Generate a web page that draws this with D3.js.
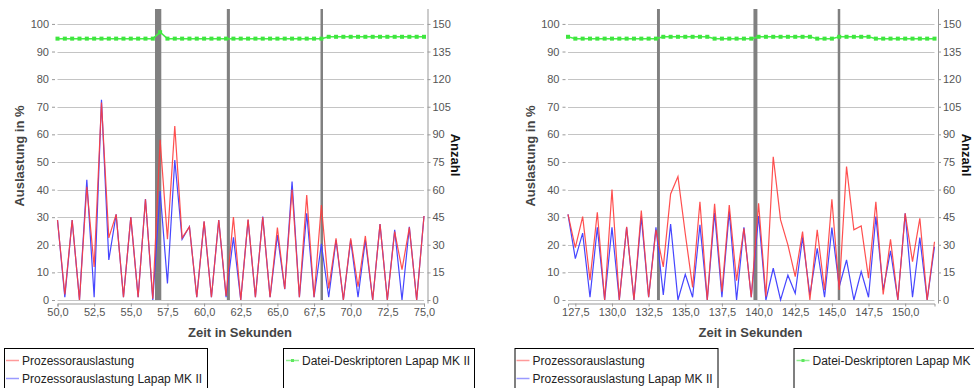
<!DOCTYPE html>
<html>
<head>
<meta charset="utf-8">
<script src="https://cdn.jsdelivr.net/npm/d3@7"></script>
<style>
  body { margin: 0; background: #fff; }
  svg { display: block; font-family: "Liberation Sans", Arial, sans-serif; }
  .tick text { fill: #555; font-size: 11px; }
  .axis .domain { stroke: #999; }
  .axis .tick line { stroke: #999; }
</style>
</head>
<body>
<div id="chart"></div>
<script>
// ---- data: left chart (50 - 75 s) ----
var timeA = [50.0, 50.5, 51.0, 51.5, 52.0, 52.5, 53.0, 53.5, 54.0, 54.5, 55.0, 55.5, 56.0, 56.5, 57.0, 57.5, 58.0, 58.5, 59.0, 59.5,
             60.0, 60.5, 61.0, 61.5, 62.0, 62.5, 63.0, 63.5, 64.0, 64.5, 65.0, 65.5, 66.0, 66.5, 67.0, 67.5, 68.0, 68.5, 69.0, 69.5,
             70.0, 70.5, 71.0, 71.5, 72.0, 72.5, 73.0, 73.5, 74.0, 74.5, 75.0];
var cpuA = [29, 2, 29, 0, 41, 12, 71.5, 22.5, 31, 1, 30, 1, 36.5, 0.5, 58, 22, 63, 22.5, 26.5, 1,
            28.5, 1, 29, 1.5, 30, 0, 29.2, 1, 30, 1, 26.2, 4, 40, 1, 38, 1, 34.4, 4.2, 22.3, 0,
            22.3, 4.8, 23.2, 0, 27.5, 0, 24.8, 11, 26.3, 0, 30.4];
var cpuMkA = [29, 1, 29, 0, 43.5, 1, 72.5, 14.5, 31, 1, 30, 1, 36.6, 0, 39.5, 6, 50.7, 22, 26.6, 1,
              28.4, 1, 29, 1, 22.7, 0, 29, 1, 30.2, 1, 23.5, 3.9, 42.9, 1, 31.4, 1, 20.3, 1, 21.7, 0,
              21.7, 1, 21.7, 0, 27.5, 0, 25.4, 0, 26.5, 0, 30.4];
var fdA = [142, 142, 142, 142, 142, 142, 142, 142, 142, 142, 142, 142, 142, 142, 145.5, 142, 142, 142, 142, 142,
           142, 142, 142, 142, 142, 142, 142, 142, 142, 142, 142, 142, 142, 142, 142, 142, 142, 143, 143, 143,
           143, 143, 143, 143, 143, 143, 143, 143, 143, 143, 143];
var eventsA = [[56.65, 57.08], [61.55, 61.76], [67.94, 68.1]];
var ticksA = [50, 52.5, 55, 57.5, 60, 62.5, 65, 67.5, 70, 72.5, 75];

// ---- data: right chart (127 - 152 s) ----
var timeB = [127.0, 127.5, 128.0, 128.5, 129.0, 129.5, 130.0, 130.5, 131.0, 131.5, 132.0, 132.5, 133.0, 133.5, 134.0, 134.5, 135.0, 135.5, 136.0, 136.5,
             137.0, 137.5, 138.0, 138.5, 139.0, 139.5, 140.0, 140.5, 141.0, 141.5, 142.0, 142.5, 143.0, 143.5, 144.0, 144.5, 145.0, 145.5, 146.0, 146.5,
             147.0, 147.5, 148.0, 148.5, 149.0, 149.5, 150.0, 150.5, 151.0, 151.5, 152.0];
var cpuB = [31, 19, 30.2, 7.2, 31.8, 0, 40, 0, 26.5, 0, 32.4, 1, 25.4, 12, 38.4, 44.7, 24, 4.6, 35.6, 0,
            34.8, 3, 34.4, 7, 26, 1, 35, 1.2, 51.9, 29, 20, 8.5, 24.8, 0, 25.4, 3.6, 36.5, 3.6, 48.3, 25.4,
            26.8, 7.9, 35.6, 2, 22, 0, 31.4, 13.9, 29.6, 0, 21.1];
var cpuMkB = [31, 15, 24.2, 1, 26.3, 0, 26.3, 0, 26.3, 0, 30.2, 1, 26.3, 1.8, 27.5, 0, 9.3, 1, 27.2, 0,
              31.6, 1, 32, 0, 26.3, 1, 30.4, 0, 11.5, 0, 9, 2.4, 22.7, 1.8, 18.7, 1, 26.2, 4.8, 14.5, 0,
              10.3, 1, 30.2, 3.6, 17.8, 0, 31.4, 1, 22.6, 0, 19.3];
var fdB = [143, 142, 142, 142, 142, 142, 142, 142, 142, 142, 142, 142, 142, 143, 143, 143, 143, 143, 143, 143,
           142, 142, 142, 142, 142, 142, 143, 143, 143, 143, 143, 143, 143, 143, 142, 142, 142, 143, 143, 143,
           143, 143, 142, 142, 142, 142, 142, 142, 142, 142, 142];
var eventsB = [[133.07, 133.27], [139.65, 139.92], [145.4, 145.55]];
var ticksB = [127.5, 130, 132.5, 135, 137.5, 140, 142.5, 145, 147.5, 150];

var yTicks = [0, 10, 20, 30, 40, 50, 60, 70, 80, 90, 100];
var yTicksRight = [0, 15, 30, 45, 60, 75, 90, 105, 120, 135, 150];
var seriesNames = ["Prozessorauslastung", "Prozessorauslastung Lapap MK II", "Datei-Deskriptoren Lapap MK II"];

var svg = d3.select("#chart").append("svg")
    .attr("width", 974)
    .attr("height", 388);

var fmt = function(d) { return d3.format(".1f")(d).replace(".", ","); };

function drawChart(offsetX, time, cpu, cpuMk, fd, events, xTicks) {
    var g = svg.append("g").attr("transform", "translate(" + offsetX + ",0)");
    var left = 57.5, right = 424, top = 9, bottom = 300;

    var x = d3.scaleLinear().domain([time[0], time[time.length - 1]]).range([left, right]);
    var y = d3.scaleLinear().domain([0, 105.4]).range([bottom, top]);
    var y2 = d3.scaleLinear().domain([0, 158.1]).range([bottom, top]);

    // grid
    g.append("g").selectAll("line").data(yTicks).enter().append("line")
        .attr("x1", left).attr("x2", right)
        .attr("y1", d => Math.round(y(d)) + 0.5).attr("y2", d => Math.round(y(d)) + 0.5)
        .attr("stroke", "#c4c4c4");

    // event bars
    g.append("g").selectAll("rect").data(events).enter().append("rect")
        .attr("x", d => x(d[0]))
        .attr("width", d => Math.max(2.5, x(d[1]) - x(d[0])))
        .attr("y", top).attr("height", bottom - top)
        .attr("fill", "#808080");

    // axes
    var xAxis = d3.axisBottom(x).tickValues(xTicks).tickFormat(fmt).tickSize(3).tickPadding(2);
    g.append("g").attr("class", "axis")
        .attr("transform", "translate(0,303.5)")
        .call(xAxis);

    var yAxisLeft = d3.axisLeft(y).tickValues(yTicks).tickSize(3).tickPadding(3);
    g.append("g").attr("class", "axis")
        .attr("transform", "translate(55,0)")
        .call(yAxisLeft)
        .call(s => s.select(".domain").remove());

    var yAxisRight = d3.axisRight(y2).tickValues(yTicksRight).tickSize(3).tickPadding(2);
    g.append("g").attr("class", "axis")
        .attr("transform", "translate(427.5,0)")
        .call(yAxisRight)
        .call(s => s.select(".domain").attr("d", "M0.5," + top + "V303.5"));

    // lines
    var idx = d3.range(time.length);
    var line1 = d3.line().x(i => x(time[i])).y(i => y(cpu[i]));
    var line2 = d3.line().x(i => x(time[i])).y(i => y(cpuMk[i]));
    var line3 = d3.line().x(i => x(time[i])).y(i => y2(fd[i]));

    g.append("path").datum(idx).attr("d", line2)
        .attr("fill", "none").attr("stroke", "#4646ff").attr("stroke-width", 1.2);
    g.append("path").datum(idx).attr("d", line1)
        .attr("fill", "none").attr("stroke", "#ff3c3c").attr("stroke-width", 1.2).attr("stroke-opacity", 0.9);
    g.append("path").datum(idx).attr("d", line3)
        .attr("fill", "none").attr("stroke", "#44ee44").attr("stroke-width", 1.5);
    g.append("g").selectAll("rect").data(idx).enter().append("rect")
        .attr("x", i => x(time[i]) - 2).attr("y", i => y2(fd[i]) - 2)
        .attr("width", 4).attr("height", 4)
        .attr("fill", "#3fe63f");

    // titles
    g.append("text")
        .attr("transform", "translate(24,156) rotate(-90)")
        .attr("text-anchor", "middle")
        .attr("font-size", 13).attr("font-weight", "bold").attr("fill", "#444")
        .text("Auslastung in %");
    g.append("text")
        .attr("transform", "translate(451,155) rotate(90)")
        .attr("text-anchor", "middle")
        .attr("font-size", 13).attr("font-weight", "bold").attr("fill", "#111")
        .text("Anzahl");
    g.append("text")
        .attr("x", 240).attr("y", 337)
        .attr("text-anchor", "middle")
        .attr("font-size", 13).attr("font-weight", "bold").attr("fill", "#444")
        .text("Zeit in Sekunden");

    // legends
    var leg1 = g.append("g");
    leg1.append("rect").attr("x", 4.5).attr("y", 348.5).attr("width", 203).attr("height", 50)
        .attr("fill", "none").attr("stroke", "#000");
    [["#ff9a9a", seriesNames[0]], ["#9a9aff", seriesNames[1]]].forEach(function(d, i) {
        leg1.append("line").attr("x1", 6).attr("x2", 19)
            .attr("y1", 360.5 + i * 18).attr("y2", 360.5 + i * 18)
            .attr("stroke", d[0]).attr("stroke-width", 1.5);
        leg1.append("text").attr("x", 22).attr("y", 364.5 + i * 18)
            .attr("font-size", 12).attr("fill", "#222").text(d[1]);
    });
    var leg2 = g.append("g");
    leg2.append("rect").attr("x", 283.5).attr("y", 348.5).attr("width", 191).attr("height", 50)
        .attr("fill", "none").attr("stroke", "#000");
    leg2.append("line").attr("x1", 286).attr("x2", 299).attr("y1", 360.5).attr("y2", 360.5)
        .attr("stroke", "#8ff08f").attr("stroke-width", 1.5);
    leg2.append("rect").attr("x", 291).attr("y", 359).attr("width", 3).attr("height", 3).attr("fill", "#5fe85f");
    leg2.append("text").attr("x", 302).attr("y", 364.5)
        .attr("font-size", 12).attr("fill", "#222").text(seriesNames[2]);
}

drawChart(0, timeA, cpuA, cpuMkA, fdA, eventsA, ticksA);
drawChart(510.5, timeB, cpuB, cpuMkB, fdB, eventsB, ticksB);
</script>
</body>
</html>
